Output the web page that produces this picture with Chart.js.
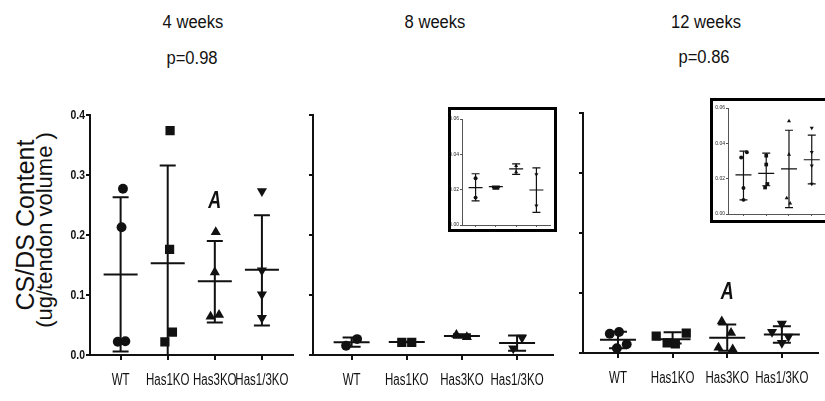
<!DOCTYPE html>
<html>
<head>
<meta charset="utf-8">
<script src="https://cdn.jsdelivr.net/npm/chart.js@4.4.1/dist/chart.umd.min.js"></script>
<style>
  body { margin: 0; width: 825px; height: 401px; overflow: hidden; background: #fff; position: relative;
         font-family: "Liberation Sans", Arial, sans-serif; color: #111; }
  canvas { position: absolute; top: 0; }
  .txt { position: absolute; white-space: nowrap; font-size: 18px; transform: translate(-50%, -50%) scaleX(0.92); }
  .ylab { position: absolute; white-space: nowrap; transform: translate(-50%, -50%) rotate(-90deg); }
  .inset { position: absolute; border: 3px solid #000; background: #fff; }
  .inset canvas { position: absolute; left: 0; top: 0; }
</style>
</head>
<body>
<div class="txt" style="left:193px;top:22px">4 weeks</div>
<div class="txt" style="left:192px;top:58px">p=0.98</div>
<div class="txt" style="left:435px;top:22px">8 weeks</div>
<div class="txt" style="left:706px;top:22px">12 weeks</div>
<div class="txt" style="left:704px;top:57px">p=0.86</div>
<div class="ylab" style="left:25px;top:225px;font-size:25px">CS/DS Content</div>
<div class="ylab" style="left:45px;top:230px;font-size:22px">(ug/tendon volume )</div>

<canvas id="c4" width="300" height="401" style="left:0px"></canvas>
<canvas id="c8" width="264" height="401" style="left:296px"></canvas>
<canvas id="c12" width="259" height="401" style="left:566px"></canvas>
<div class="inset" style="left:448px;top:107px;width:103px;height:119px">
  <canvas id="i8" width="103" height="119"></canvas>
</div>
<div class="inset" style="left:710px;top:98px;width:120px;height:119px">
  <canvas id="i12" width="120" height="119"></canvas>
</div>

<script>
// data
const groups = ['WT', 'Has1KO', 'Has3KO', 'Has1/3KO'];
const mainTicks = [0, 0.1, 0.2, 0.3, 0.4];
const insetTicks = [0, 0.02, 0.04, 0.06];

const wk4Values = [[0.277, 0.213, 0.022, 0.023], [0.374, 0.176, 0.022, 0.038], [0.205, 0.138, 0.064, 0.067], [0.273, 0.141, 0.101, 0.062]];
const wk4Mean = [0.134, 0.153, 0.123, 0.142];
const wk4Upper = [0.263, 0.316, 0.190, 0.233];
const wk4Lower = [0.006, 0.0, 0.054, 0.049];

const wk8Values = [[0.0265, 0.0155], [0.021, 0.021], [0.0335, 0.030], [0.0287, 0.0109]];
const wk8Mean = [0.0211, 0.0217, 0.0318, 0.0198];
const wk8Upper = [0.029, 0.0220, 0.0346, 0.0323];
const wk8Lower = [0.0136, 0.0213, 0.0286, 0.0071];

const wk12Values = [[0.035, 0.032, 0.0147, 0.008], [0.033, 0.028, 0.017, 0.015], [0.0526, 0.0337, 0.009, 0.006], [0.0487, 0.035, 0.0274, 0.017]];
const wk12Mean = [0.0221, 0.023, 0.0255, 0.0307];
const wk12Upper = [0.0356, 0.0345, 0.0474, 0.0446];
const wk12Lower = [0.008, 0.016, 0.0036, 0.017];

// horizontal scatter of the dots (style only)
const jit4 = [[0.05, 0.02, -0.06, 0.1], [0.05, 0.04, -0.06, 0.1], [0.02, 0, -0.09, 0.09], [0, 0, 0, 0]];
const jit8 = [[0.1, -0.1], [-0.09, 0.09], [-0.1, 0.09], [0.09, -0.07]];
const jit12 = [[0.02, -0.15, 0.16, -0.02], [0.25, -0.3, -0.1, 0.05], [-0.1, 0.07, -0.16, 0.1], [0, -0.18, 0.12, 0]];
const jit8i = [[0, 0], [-0.08, 0.08], [0, 0], [0, 0]];
const jit12i = [[0.15, -0.1, 0, 0], [0, 0, 0.05, -0.05], [0, 0, -0.1, 0.05], [0, 0, 0, 0]];

const shapes = [
  { pointStyle: 'circle', rotation: 0, k: 1.1 },
  { pointStyle: 'rect', rotation: 0, k: 1.45 },
  { pointStyle: 'triangle', rotation: 0, k: 1.3 },
  { pointStyle: 'triangle', rotation: 180, k: 1.3 }
];

function squeezeText(ctx, text, x, y, sx) {
  ctx.save();
  ctx.translate(x, y);
  ctx.scale(sx, 1);
  ctx.fillText(text, 0, 0);
  ctx.restore();
}

const errorBars = {
  id: 'errorBars',
  beforeDatasetsDraw(chart, args, o) {
    const { ctx, scales: { x, y } } = chart;
    ctx.save();
    ctx.strokeStyle = '#111';
    ctx.lineWidth = o.lineWidth;
    o.mean.forEach((m, i) => {
      const cx = x.getPixelForValue(i + 1);
      const ym = y.getPixelForValue(m), yu = y.getPixelForValue(o.upper[i]), yl = y.getPixelForValue(o.lower[i]);
      ctx.beginPath();
      ctx.moveTo(cx, yu); ctx.lineTo(cx, yl);
      ctx.moveTo(cx - o.cap, yu); ctx.lineTo(cx + o.cap, yu);
      ctx.moveTo(cx - o.cap, yl); ctx.lineTo(cx + o.cap, yl);
      ctx.moveTo(cx - o.half, ym); ctx.lineTo(cx + o.half, ym);
      ctx.stroke();
    });
    ctx.restore();
  },
  afterDatasetsDraw(chart, args, o) {
    const { ctx, scales: { x, y } } = chart;
    ctx.save();
    ctx.fillStyle = '#111';
    ctx.textAlign = 'center';
    ctx.textBaseline = 'middle';
    if (o.letters) {
      ctx.font = 'italic bold 23px "Liberation Sans", Arial, sans-serif';
      o.letters.forEach(l => squeezeText(ctx, l.text, x.getPixelForValue(l.group + 1), y.getPixelForValue(l.y), 0.78));
    }
    if (o.names) {
      // narrow category names under the axis
      ctx.font = '16px "Liberation Sans", Arial, sans-serif';
      x.ticks.forEach(t => squeezeText(ctx, groups[t.value - 1], x.getPixelForValue(t.value), x.top + o.nameGap, 0.72));
    }
    if (o.yNames) {
      ctx.font = 'bold 13px "Liberation Sans", Arial, sans-serif';
      ctx.textAlign = 'right';
      y.ticks.forEach(t => squeezeText(ctx, t.value.toFixed(1), y.right - 5, y.getPixelForValue(t.value), 0.8));
    }
    ctx.restore();
  }
};

function makeSets(values, jit, r) {
  return values.map((vals, i) => ({
    label: groups[i],
    data: vals.map((v, j) => ({ x: i + 1 + jit[i][j], y: v })),
    pointStyle: shapes[i].pointStyle,
    rotation: shapes[i].rotation,
    pointRadius: r * shapes[i].k,
    backgroundColor: '#111',
    borderColor: '#111',
    borderWidth: 0
  }));
}

function build(id, cfg) {
  const axisCol = cfg.inset ? '#555' : '#111';
  const lw = cfg.inset ? 1 : 2;
  new Chart(document.getElementById(id), {
    type: 'scatter',
    data: { datasets: makeSets(cfg.values, cfg.jit, cfg.r) },
    options: {
      responsive: false,
      animation: false,
      devicePixelRatio: 1,
      layout: { padding: cfg.pad },
      plugins: {
        legend: { display: false },
        tooltip: { enabled: false },
        errorBars: { mean: cfg.mean, upper: cfg.upper, lower: cfg.lower, half: cfg.half, cap: cfg.cap,
                     lineWidth: cfg.inset ? 1.2 : 2, letters: cfg.letters, names: !cfg.inset, nameGap: 26,
                     yNames: !cfg.inset && cfg.ylabels }
      },
      scales: {
        x: {
          type: 'linear', min: cfg.xmin, max: cfg.xmax,
          afterBuildTicks: s => { s.ticks = [1, 2, 3, 4].map(v => ({ value: v })); },
          afterFit: s => { s.height = cfg.xh; },
          border: { color: axisCol, width: lw },
          grid: { drawOnChartArea: false, tickLength: cfg.inset ? 2 : 5, color: axisCol, lineWidth: lw },
          ticks: { display: false }
        },
        y: {
          min: 0, max: cfg.ymax,
          afterBuildTicks: s => { s.ticks = cfg.yticks.map(v => ({ value: v })); },
          afterFit: s => { s.width = cfg.yw; },
          border: { color: axisCol, width: lw },
          grid: { drawOnChartArea: false, tickLength: cfg.inset ? 2 : 4, color: axisCol, lineWidth: lw },
          ticks: {
            display: !!cfg.inset, padding: 1, color: '#222',
            font: { family: '"Liberation Sans", Arial, sans-serif', size: 5 },
            callback: v => v.toFixed(2)
          }
        }
      }
    },
    plugins: [errorBars]
  });
}

build('c4', {
  values: wk4Values, jit: jit4, mean: wk4Mean, upper: wk4Upper, lower: wk4Lower,
  r: 4.5, half: 17, cap: 8, xmin: 0.35, xmax: 4.67, ymax: 0.4, yticks: mainTicks, ylabels: true,
  pad: { top: 115, right: 4, bottom: 0, left: 0 }, yw: 90, xh: 46,
  letters: [{ text: 'A', group: 2, y: 0.2555 }]
});
build('c8', {
  values: wk8Values, jit: jit8, mean: wk8Mean, upper: wk8Upper, lower: wk8Lower,
  r: 4.5, half: 18, cap: 9, xmin: 0.3, xmax: 4.66, ymax: 0.4, yticks: mainTicks, ylabels: false,
  pad: { top: 115, right: 4, bottom: 0, left: 0 }, yw: 17, xh: 46
});
build('c12', {
  values: wk12Values, jit: jit12, mean: wk12Mean, upper: wk12Upper, lower: wk12Lower,
  r: 4.5, half: 18, cap: 9, xmin: 0.36, xmax: 4.67, ymax: 0.4, yticks: mainTicks, ylabels: false,
  pad: { top: 113, right: 5, bottom: 0, left: 0 }, yw: 17, xh: 48,
  letters: [{ text: 'A', group: 2, y: 0.1008 }]
});
build('i8', {
  inset: true, values: wk8Values, jit: jit8i, mean: wk8Mean, upper: wk8Upper, lower: wk8Lower,
  r: 1.8, half: 7, cap: 4, xmin: 0.33, xmax: 4.67, ymax: 0.06, yticks: insetTicks,
  pad: { top: 9, right: 1, bottom: 0, left: 0 }, yw: 11, xh: 3
});
build('i12', {
  inset: true, values: wk12Values, jit: jit12i, mean: wk12Mean, upper: wk12Upper, lower: wk12Lower,
  r: 1.8, half: 8, cap: 4, xmin: 0.32, xmax: 4.67, ymax: 0.06, yticks: insetTicks,
  pad: { top: 7, right: 6, bottom: 0, left: 0 }, yw: 15, xh: 6
});
</script>
</body>
</html>
